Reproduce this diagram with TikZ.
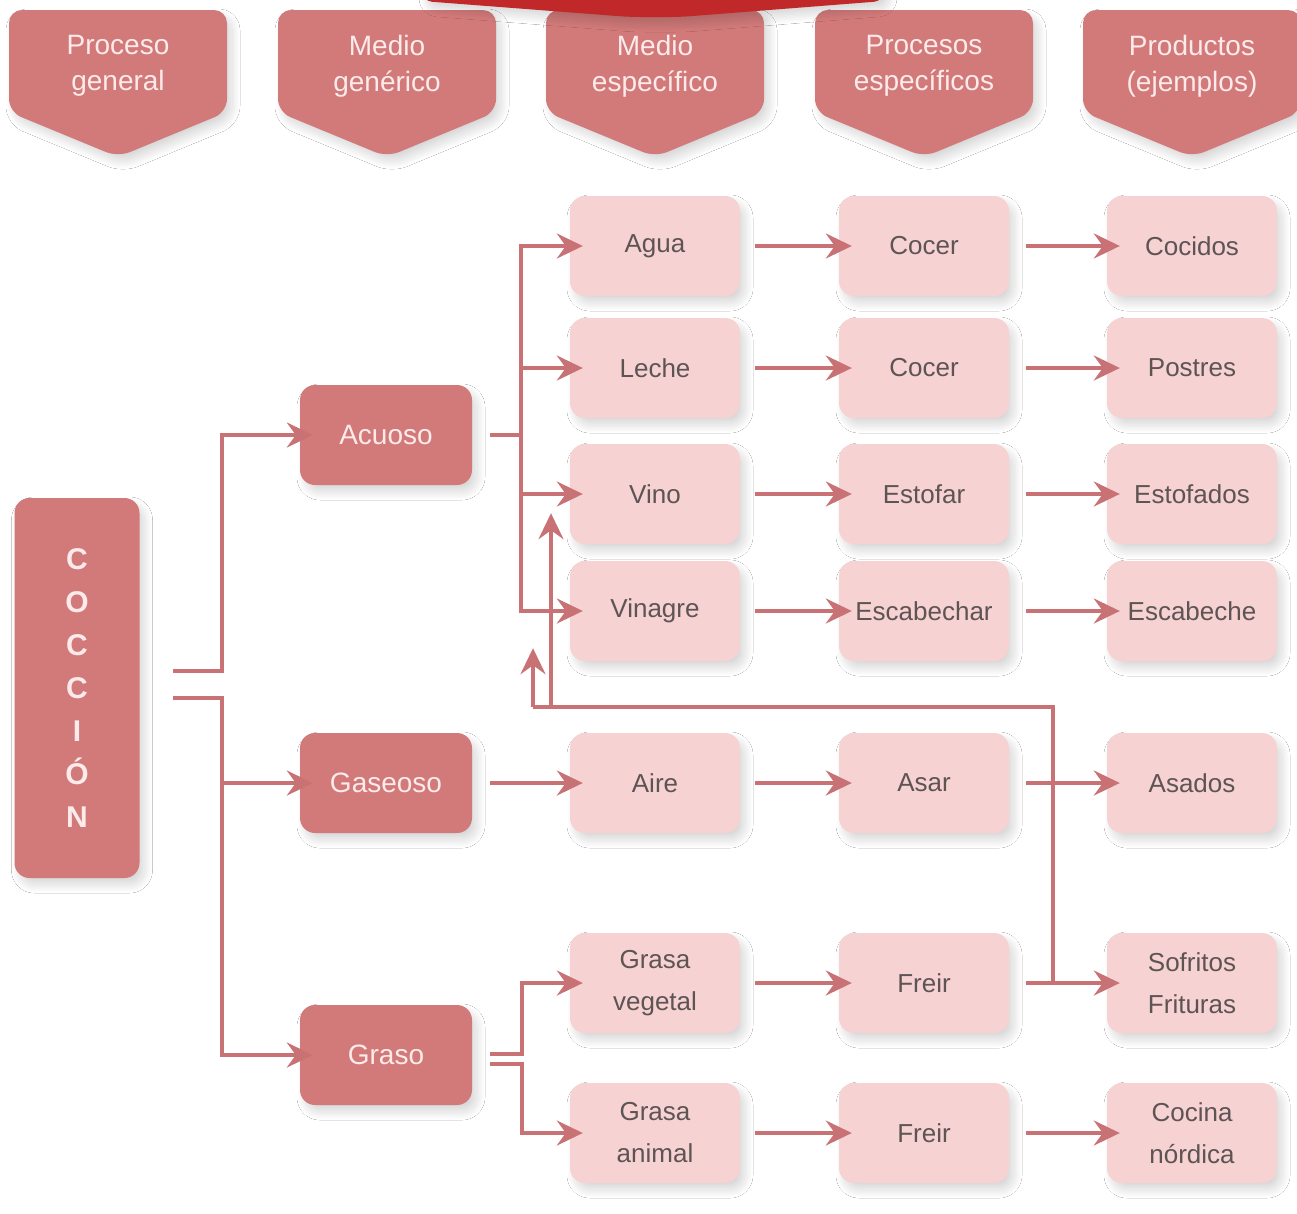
\documentclass[tikz,border=0pt]{standalone}
\usepackage{fontspec}
\setmainfont{Liberation Sans}
\setsansfont{Liberation Sans}
\usetikzlibrary{arrows.meta,shadows.blur,calc}
\definecolor{darkrose}{HTML}{D27A7A}
\definecolor{lightrose}{HTML}{F6D2D2}
\definecolor{linec}{HTML}{C97276}
\definecolor{topred}{HTML}{C0282A}
\definecolor{txtdark}{HTML}{5E5454}
\definecolor{txtlight}{HTML}{FDEAEA}
\definecolor{shadc}{HTML}{6E7C88}
\begin{document}
\begin{tikzpicture}[x=1pt,y=-1pt,
 shad/.style={blur shadow={shadow xshift=5pt,shadow yshift=-7pt,shadow blur radius=8pt,shadow blur steps=30,shadow opacity=16}},
 lbox/.style={shad, fill=lightrose, rounded corners=15pt, minimum width=170pt, minimum height=100pt, inner sep=0pt, align=center, text=txtdark, font=\fontsize{26}{42}\selectfont},
 dbox/.style={shad, fill=darkrose, rounded corners=15pt, minimum width=172pt, minimum height=100pt, inner sep=0pt, align=center, text=txtlight, font=\fontsize{28}{34}\selectfont},
 hdr/.style={shad, fill=darkrose, rounded corners=13pt},
 htxt/.style={text=txtlight, align=center, font=\fontsize{28}{36}\selectfont, inner sep=0pt},
 conn/.style={draw=linec, line width=3.5pt},
 tip/.tip={Stealth[length=26pt,width=25pt,inset=9pt]},
 arr/.style={conn, -tip, shorten >=-13pt},
 arrb/.style={conn, tip-tip, shorten >=-13pt, shorten <=-13pt},
]
\useasboundingbox (0,0) rectangle (1297,1213);
\fill[white] (0,0) rectangle (1297,1213);

% headers
\foreach \cx/\nm/\t in {118/h1/{Proceso\\general}, 387/h2/{Medio\\genérico}, 655/h3/{Medio\\específico}, 924/h4/{Procesos\\específicos}, 1192/h5/{Productos\\(ejemplos)}}{
  \path[hdr] (\cx-109,10) -- (\cx+109,10) -- (\cx+109,112) -- (\cx,157) -- (\cx-109,112) -- cycle;
  \node[htxt] (\nm) at (\cx,66) {\t};
}

% top red banner (cut by the top edge)
\path[shad, fill=topred, rounded corners=10pt] (422,-20) -- (884,-20) -- (884,1) -- (680,17) -- (630,17) -- (422,1) -- cycle;

% nodes
\node[dbox, minimum width=125pt, minimum height=380pt, font=\fontsize{30}{43}\selectfont\bfseries] (coc) at (77,688) {C\\O\\C\\C\\I\\Ó\\N};
\node[dbox] (acu) at (386,435) {Acuoso};
\node[dbox] (gas) at (386,783) {Gaseoso};
\node[dbox] (gra) at (386,1055) {Graso};

\node[lbox] (agua)  at (655,246) {Agua};
\node[lbox] (leche) at (655,368) {Leche};
\node[lbox] (vino)  at (655,494) {Vino};
\node[lbox] (vinag) at (655,611) {Vinagre};
\node[lbox] (aire)  at (655,783) {Aire};
\node[lbox] (gveg)  at (655,983) {Grasa\\vegetal};
\node[lbox] (gani)  at (655,1133) {Grasa\\animal};

\node[lbox] (cocer1) at (924,246) {Cocer};
\node[lbox] (cocer2) at (924,368) {Cocer};
\node[lbox] (estof)  at (924,494) {Estofar};
\node[lbox] (escab)  at (924,611) {Escabechar};
\node[lbox] (asar)   at (924,783) {Asar};
\node[lbox] (freir1) at (924,983) {Freir};
\node[lbox] (freir2) at (924,1133) {Freir};

\node[lbox] (cocid)  at (1192,246) {Cocidos};
\node[lbox] (postr)  at (1192,368) {Postres};
\node[lbox] (estofs) at (1192,494) {Estofados};
\node[lbox] (escabe) at (1192,611) {Escabeche};
\node[lbox] (asad)   at (1192,783) {Asados};
\node[lbox] (sof)    at (1192,983) {Sofritos\\Frituras};
\node[lbox] (cocina) at (1192,1133) {Cocina\\nórdica};

% helper coordinates
\coordinate (ca) at (173,671);
\coordinate (cb) at (173,698);
\coordinate (jx) at (222,0);
\coordinate (ja) at (521,0);
\coordinate (jg) at (522,0);
\coordinate (js) at (1053,0);
\coordinate (jh) at (0,707);
\coordinate (fa) at (551,707);
\coordinate (fb) at (533,707);
\coordinate (g1) at (490,1054);
\coordinate (g2) at (490,1064);

% COCCION -> generic media
\draw[arr] (ca) -- (ca -| jx) |- (acu.west);
\draw[arr] (cb) -- (cb -| jx) |- (gra.west);
\draw[arr] (jx |- gas.west) -- (gas.west);

% Acuoso -> specific media
\draw[conn] ([xshift=18pt]acu.east) -- (acu.east -| ja);
\draw[arrb] (vinag.west) -- (ja |- vinag.west) -- (ja |- agua.west) -- (agua.west);
\draw[arr] (ja |- leche.west) -- (leche.west);
\draw[arr] (ja |- vino.west) -- (vino.west);

% Gaseoso -> Aire
\draw[arr] ([xshift=18pt]gas.east) -- (aire.west);

% Graso -> fats
\draw[arr] (g1) -- (g1 -| jg) |- (gveg.west);
\draw[arr] (g2) -- (g2 -| jg) |- (gani.west);

% column 3 -> 4 -> 5
\foreach \a/\b/\c in {agua/cocer1/cocid, leche/cocer2/postr, vino/estof/estofs, vinag/escab/escabe, aire/asar/asad, gveg/freir1/sof, gani/freir2/cocina}{
  \draw[arr] ([xshift=15pt]\a.east) -- (\b.west);
  \draw[arr] ([xshift=17pt]\b.east) -- (\c.west);
}

% feedback from Sofritos line
\draw[conn] (js |- sof.west) -- (js |- jh) -- (fb);
\draw[arr] (fb) -- (fb |- vinag.south);
\draw[arr, shorten >=-31pt] (fa) -- (fa |- vino.south);
\end{tikzpicture}
\end{document}
